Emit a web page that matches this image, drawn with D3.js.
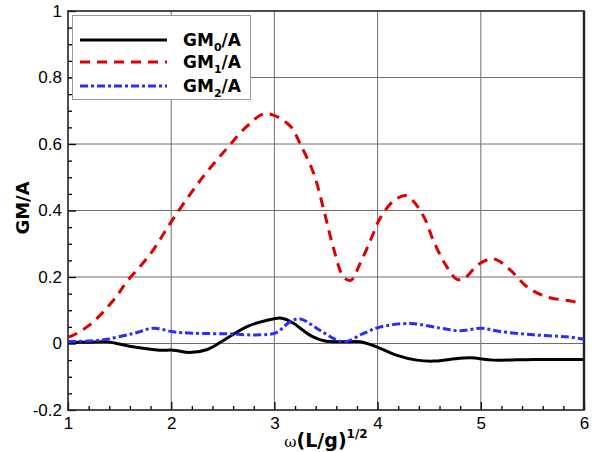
<!DOCTYPE html>
<html>
<head>
<meta charset="utf-8">
<script src="https://cdn.jsdelivr.net/npm/d3@7"></script>
<style>
  body { margin: 0; background: #fff; }
  svg { font-family: "DejaVu Sans", "Liberation Sans", Arial, sans-serif; }
</style>
</head>
<body>
<div id="chart"></div>
<script>
// ---- data ----
const gm0X = [1.0, 1.2, 1.375, 1.63, 1.89, 2.02, 2.18, 2.35, 2.54, 2.73, 2.93, 3.07, 3.19, 3.25, 3.36, 3.48, 3.67, 3.83, 3.99, 4.18, 4.38, 4.54, 4.7, 4.9, 5.12, 5.51, 6.0];
const gm0Y = [0.003, 0.004, 0.005, -0.01, -0.02, -0.02, -0.027, -0.018, 0.016, 0.05, 0.07, 0.076, 0.06, 0.046, 0.022, 0.008, 0.005, 0.005, -0.01, -0.035, -0.05, -0.053, -0.048, -0.043, -0.05, -0.048, -0.048];

const gm1X = [1.0, 1.03, 1.21, 1.44, 1.57, 1.8, 2.0, 2.28, 2.54, 2.73, 2.89, 2.99, 3.16, 3.25, 3.38, 3.48, 3.57, 3.67, 3.74, 3.83, 3.93, 4.03, 4.16, 4.27, 4.34, 4.45, 4.54, 4.66, 4.77, 4.84, 4.97, 5.09, 5.16, 5.29, 5.45, 5.64, 5.9, 5.95];
const gm1Y = [0.02, 0.022, 0.056, 0.13, 0.186, 0.27, 0.366, 0.49, 0.587, 0.652, 0.69, 0.687, 0.652, 0.6, 0.512, 0.40, 0.29, 0.2, 0.19, 0.24, 0.31, 0.38, 0.43, 0.445, 0.43, 0.38, 0.31, 0.236, 0.193, 0.196, 0.236, 0.254, 0.251, 0.22, 0.17, 0.14, 0.126, 0.12];

const gm2X = [1.0, 1.31, 1.63, 1.83, 2.02, 2.21, 2.54, 2.86, 3.02, 3.15, 3.25, 3.44, 3.67, 3.86, 4.03, 4.32, 4.61, 4.8, 5.0, 5.19, 5.51, 5.83, 6.0];
const gm2Y = [0.006, 0.01, 0.03, 0.046, 0.035, 0.031, 0.029, 0.026, 0.033, 0.065, 0.074, 0.04, 0.005, 0.03, 0.05, 0.06, 0.046, 0.038, 0.046, 0.036, 0.026, 0.02, 0.013];

const xTicks = [1, 2, 3, 4, 5, 6];
const yTicks = [-0.2, 0, 0.2, 0.4, 0.6, 0.8, 1];
const yTickLabels = ["-0.2", "0", "0.2", "0.4", "0.6", "0.8", "1"];
const seriesNames = ["GM0/A", "GM1/A", "GM2/A"];

// ---- layout ----
const W = 595, H = 452;
const margin = { top: 11, right: 11, bottom: 42, left: 68 };
const iw = W - margin.left - margin.right;
const ih = H - margin.top - margin.bottom;

const svgEl = d3.select("#chart").append("svg")
  .attr("width", W).attr("height", H);
const svg = svgEl.append("g")
  .attr("transform", `translate(${margin.left},${margin.top})`);

const x = d3.scaleLinear().domain([1, 6]).range([0, iw]);
const y = d3.scaleLinear().domain([-0.2, 1]).range([ih, 0]);

// gridlines
svg.append("g").selectAll("line.vx")
  .data(xTicks.slice(1, -1)).enter().append("line")
  .attr("x1", d => x(d)).attr("x2", d => x(d))
  .attr("y1", 0).attr("y2", ih)
  .attr("stroke", "#6e6e6e").attr("stroke-width", 1);
svg.append("g").selectAll("line.hy")
  .data(yTicks.slice(1, -1)).enter().append("line")
  .attr("x1", 0).attr("x2", iw)
  .attr("y1", d => y(d)).attr("y2", d => y(d))
  .attr("stroke", "#6e6e6e").attr("stroke-width", 1);

// minor ticks (pointing inward)
const xMinor = d3.range(1, 6.001, 0.2).filter(v => Math.abs(v - Math.round(v)) > 1e-6);
const yMinor = d3.range(-0.2, 1.001, 0.05).filter(v => Math.abs(v * 5 - Math.round(v * 5)) > 1e-6);

svg.append("g")
  .attr("transform", `translate(0,${ih})`)
  .call(d3.axisBottom(x).tickValues(xMinor).tickSize(-4).tickFormat(""))
  .call(g => g.select(".domain").remove());
svg.append("g")
  .call(d3.axisLeft(y).tickValues(yMinor).tickSize(-4).tickFormat(""))
  .call(g => g.select(".domain").remove());

// major ticks + labels
const xAxis = svg.append("g")
  .attr("transform", `translate(0,${ih})`)
  .call(d3.axisBottom(x).tickValues(xTicks).tickSize(-8).tickPadding(7).tickFormat(d3.format("d")));
xAxis.select(".domain").remove();
xAxis.selectAll("text").attr("font-size", 17).attr("fill", "#000");

const yAxis = svg.append("g")
  .call(d3.axisLeft(y).tickValues(yTicks).tickSize(-8).tickPadding(6)
    .tickFormat((d, i) => yTickLabels[i]));
yAxis.select(".domain").remove();
yAxis.selectAll("text").attr("font-size", 17).attr("fill", "#000");
svg.selectAll(".tick line").attr("stroke", "#000").attr("stroke-width", 1.3);

// frame
svg.append("rect")
  .attr("x", 0).attr("y", 0).attr("width", iw).attr("height", ih)
  .attr("fill", "none").attr("stroke", "#222").attr("stroke-width", 1.6);
svg.append("line")
  .attr("x1", iw).attr("x2", iw).attr("y1", 0).attr("y2", ih)
  .attr("stroke", "#222").attr("stroke-width", 2.4);

// series
const line = d3.line()
  .x(d => x(d[0])).y(d => y(d[1]))
  .curve(d3.curveCatmullRom.alpha(0.5));

const series = [
  { pts: d3.zip(gm0X, gm0Y), color: "#000", dash: null },
  { pts: d3.zip(gm1X, gm1Y), color: "#dd0000", dash: "10,7" },
  { pts: d3.zip(gm2X, gm2Y), color: "#2b2bff", dash: "8,3,3,3" }
];

svg.append("g").selectAll("path")
  .data(series).enter().append("path")
  .attr("d", d => line(d.pts))
  .attr("fill", "none")
  .attr("stroke", d => d.color)
  .attr("stroke-width", 3)
  .attr("stroke-dasharray", d => d.dash);

// legend
const lg = svgEl.append("g");
lg.append("rect")
  .attr("x", 72.5).attr("y", 15.5).attr("width", 178).attr("height", 84)
  .attr("fill", "#fff").attr("stroke", "#999").attr("stroke-width", 1);

const legendY = [40, 62, 86];
series.forEach((s, i) => {
  lg.append("line")
    .attr("x1", 80).attr("x2", 167)
    .attr("y1", legendY[i]).attr("y2", legendY[i])
    .attr("stroke", s.color).attr("stroke-width", 3)
    .attr("stroke-dasharray", s.dash);
  const t = lg.append("text")
    .attr("x", 183).attr("y", legendY[i] + 6)
    .attr("font-size", 17).attr("font-weight", "bold");
  t.append("tspan").text("GM");
  t.append("tspan").attr("font-size", 11).attr("dy", 5).text(seriesNames[i].slice(2, 3));
  t.append("tspan").attr("dy", -5).text("/A");
});

// axis titles
svgEl.append("text")
  .attr("transform", `translate(29,208) rotate(-90)`)
  .attr("text-anchor", "middle")
  .attr("font-size", 18).attr("font-weight", "bold")
  .text("GM/A");

const xt = svgEl.append("text")
  .attr("x", 326).attr("y", 447)
  .attr("text-anchor", "middle")
  .attr("font-size", 19).attr("font-weight", "bold");
xt.append("tspan").attr("font-family", "'DejaVu Serif', serif").attr("font-weight", "normal")
  .attr("font-size", 15).text("ω");
xt.append("tspan").text("(L/g)");
xt.append("tspan").attr("font-size", 12).attr("dy", -9).text("1/2");
</script>
</body>
</html>
